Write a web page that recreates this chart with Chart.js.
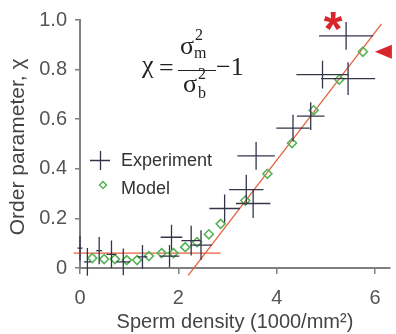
<!DOCTYPE html>
<html>
<head>
<meta charset="utf-8">
<script src="https://cdn.jsdelivr.net/npm/chart.js@4/dist/chart.umd.min.js"></script>
<style>
  html, body { margin: 0; padding: 0; background: #fff; }
  #wrap { width: 396px; height: 334px; }
</style>
</head>
<body>
<div id="wrap"><canvas id="c" width="396" height="334"></canvas></div>
<script>
// Measured order parameter with error bars (density in 1000/mm²)
const expX    = [0.00, 0.15, 0.39, 0.64, 0.88, 1.27, 1.82, 1.86, 2.26, 2.46, 2.94, 3.38, 3.52, 3.58, 4.33, 4.69, 4.93, 5.45, 5.41];
const expY    = [0.080, 0.025, 0.070, 0.055, 0.025, 0.045, 0.048, 0.124, 0.110, 0.092, 0.240, 0.316, 0.260, 0.452, 0.564, 0.612, 0.780, 0.764, 0.936];
const expXErr = [0.05, 0.07, 0.06, 0.10, 0.14, 0.10, 0.20, 0.22, 0.20, 0.22, 0.31, 0.35, 0.35, 0.38, 0.34, 0.28, 0.53, 0.55, 0.55];
const expYErr = [0.050, 0.056, 0.055, 0.056, 0.054, 0.048, 0.045, 0.050, 0.060, 0.060, 0.056, 0.060, 0.058, 0.056, 0.054, 0.056, 0.056, 0.066, 0.056];

// Simulated order parameter
const modelX = [0.25, 0.49, 0.71, 0.95, 1.16, 1.40, 1.66, 1.90, 2.14, 2.38, 2.62, 2.86, 3.36, 3.81, 4.31, 4.75, 5.27, 5.75];
const modelY = [0.040, 0.036, 0.036, 0.032, 0.032, 0.048, 0.060, 0.060, 0.084, 0.104, 0.136, 0.178, 0.272, 0.380, 0.504, 0.636, 0.760, 0.872];

// Two-segment fit: flat baseline, then linear rise
const baseFitX = [-0.13, 2.86];
const baseFitY = [0.06, 0.06];
const riseFitX = [2.20, 6.13];
const riseFitY = [-0.03, 0.984];

// Axis ticks
const xTicks = [0, 2, 4, 6];
const yTicks = [0, 0.2, 0.4, 0.6, 0.8, 1.0];

const SANS = "'Liberation Sans', Arial, sans-serif";
const SERIF = "'Liberation Serif', 'Times New Roman', serif";
const CROSS_COLOR = '#34344a';
const MODEL_COLOR = '#55b455';
const FIT_COLOR = '#e6603c';
const MARK_RED = '#d8262a';

const pts = (xs, ys) => xs.map((v, i) => ({ x: v, y: ys[i] }));

// Horizontal and vertical error bars for the measured points
const crossPlugin = {
  id: 'crosses',
  afterDatasetsDraw(chart) {
    const { ctx, scales: { x, y } } = chart;
    ctx.save();
    ctx.strokeStyle = CROSS_COLOR;
    ctx.lineWidth = 1.3;
    expX.forEach((vx, i) => {
      const px = x.getPixelForValue(vx);
      const py = y.getPixelForValue(expY[i]);
      ctx.beginPath();
      ctx.moveTo(x.getPixelForValue(vx - expXErr[i]), py);
      ctx.lineTo(x.getPixelForValue(vx + expXErr[i]), py);
      ctx.moveTo(px, y.getPixelForValue(expY[i] - expYErr[i]));
      ctx.lineTo(px, y.getPixelForValue(expY[i] + expYErr[i]));
      ctx.stroke();
    });
    ctx.restore();
  }
};

// Formula, legend, and the highlight marks
const notesPlugin = {
  id: 'notes',
  afterDraw(chart) {
    const { ctx, scales: { x, y } } = chart;
    ctx.save();

    // chi = sigma_m^2 / sigma_b^2 - 1
    ctx.fillStyle = '#222';
    ctx.textBaseline = 'alphabetic';
    ctx.textAlign = 'left';
    ctx.font = '26px ' + SERIF;
    ctx.fillText('χ', 142, 73);
    ctx.fillText('=', 159, 76);
    ctx.fillText('σ', 180, 54);
    ctx.fillText('σ', 183, 92);
    ctx.fillText('−1', 216, 75);
    ctx.font = '16px ' + SERIF;
    ctx.fillText('2', 195, 40);
    ctx.fillText('m', 194, 58);
    ctx.fillText('2', 198, 79);
    ctx.fillText('b', 198, 98);
    ctx.strokeStyle = '#222';
    ctx.lineWidth = 1;
    ctx.beginPath();
    ctx.moveTo(178, 70.5);
    ctx.lineTo(216, 70.5);
    ctx.stroke();

    // Legend
    ctx.strokeStyle = CROSS_COLOR;
    ctx.lineWidth = 1.3;
    ctx.beginPath();
    ctx.moveTo(90, 160.5); ctx.lineTo(110, 160.5);
    ctx.moveTo(100.5, 151); ctx.lineTo(100.5, 170);
    ctx.stroke();
    ctx.strokeStyle = MODEL_COLOR;
    ctx.lineWidth = 1.5;
    ctx.beginPath();
    ctx.moveTo(103, 181.5); ctx.lineTo(106.5, 185); ctx.lineTo(103, 188.5); ctx.lineTo(99.5, 185);
    ctx.closePath();
    ctx.stroke();
    ctx.fillStyle = '#333';
    ctx.font = '18px ' + SANS;
    ctx.textBaseline = 'middle';
    ctx.fillText('Experiment', 121, 161);
    ctx.fillText('Model', 121, 189);

    // Asterisk above the highest measured point
    const n = expX.length - 1;
    const sx = x.getPixelForValue(expX[n]);
    const sy = y.getPixelForValue(expY[n]);
    ctx.fillStyle = MARK_RED;
    ctx.font = 'bold 48px ' + SANS;
    ctx.textAlign = 'center';
    ctx.textBaseline = 'alphabetic';
    ctx.fillText('*', sx - 13, sy + 9);

    // Arrow pointing at the last model point
    const m = modelX.length - 1;
    const ax = x.getPixelForValue(modelX[m]) + 12;
    const ay = y.getPixelForValue(modelY[m]);
    ctx.beginPath();
    ctx.moveTo(ax, ay);
    ctx.lineTo(ax + 17, ay - 7);
    ctx.lineTo(ax + 17, ay + 7);
    ctx.closePath();
    ctx.fill();

    ctx.restore();
  }
};

new Chart(document.getElementById('c'), {
  type: 'scatter',
  data: {
    datasets: [
      {
        label: 'Baseline fit', type: 'line', data: pts(baseFitX, baseFitY),
        borderColor: FIT_COLOR, borderWidth: 1.3, pointRadius: 0, clip: false, order: 3
      },
      {
        label: 'Rise fit', type: 'line', data: pts(riseFitX, riseFitY),
        borderColor: FIT_COLOR, borderWidth: 1.3, pointRadius: 0, clip: false, order: 3
      },
      {
        label: 'Model', data: pts(modelX, modelY),
        pointStyle: 'rectRot', pointRadius: 4.5, borderWidth: 1.6,
        borderColor: MODEL_COLOR, backgroundColor: 'rgba(255,255,255,0)', clip: false, order: 2
      },
      {
        label: 'Experiment', data: pts(expX, expY),
        pointRadius: 0, clip: false, order: 1
      }
    ]
  },
  options: {
    responsive: false,
    animation: false,
    events: [],
    layout: { padding: { top: 18, left: 0, right: 0, bottom: 0 } },
    plugins: { legend: { display: false }, tooltip: { enabled: false } },
    scales: {
      x: {
        type: 'linear', min: 0, max: 6.3,
        afterBuildTicks: s => { s.ticks = xTicks.map(v => ({ value: v })); },
        afterFit: s => { s.height = 66; },
        grid: { drawOnChartArea: false, drawTicks: true, tickLength: 6, color: '#808080', lineWidth: 1.5 },
        border: { display: true, color: '#808080', width: 2 },
        ticks: { color: '#555', font: { family: SANS, size: 20 }, padding: 12, maxRotation: 0,
                 callback: v => String(v) },
        title: { display: true, text: 'Sperm density (1000/mm²)', color: '#444',
                 font: { family: SANS, size: 20 }, padding: { top: 0, bottom: 0 } }
      },
      y: {
        type: 'linear', min: 0, max: 1,
        afterBuildTicks: s => { s.ticks = yTicks.map(v => ({ value: v })); },
        afterFit: s => { s.width = 80; },
        grid: { drawOnChartArea: false, drawTicks: true, tickLength: 5, color: '#808080', lineWidth: 1.5 },
        border: { display: true, color: '#808080', width: 2 },
        ticks: { color: '#555', font: { family: SANS, size: 20 }, padding: 8,
                 callback: v => (v === 0 ? '0' : v.toFixed(1)) },
        title: { display: true, text: 'Order parameter, χ ', color: '#444',
                 font: { family: SANS, size: 21 }, padding: { top: 6, bottom: 0 } }
      }
    }
  },
  plugins: [crossPlugin, notesPlugin]
});
</script>
</body>
</html>
